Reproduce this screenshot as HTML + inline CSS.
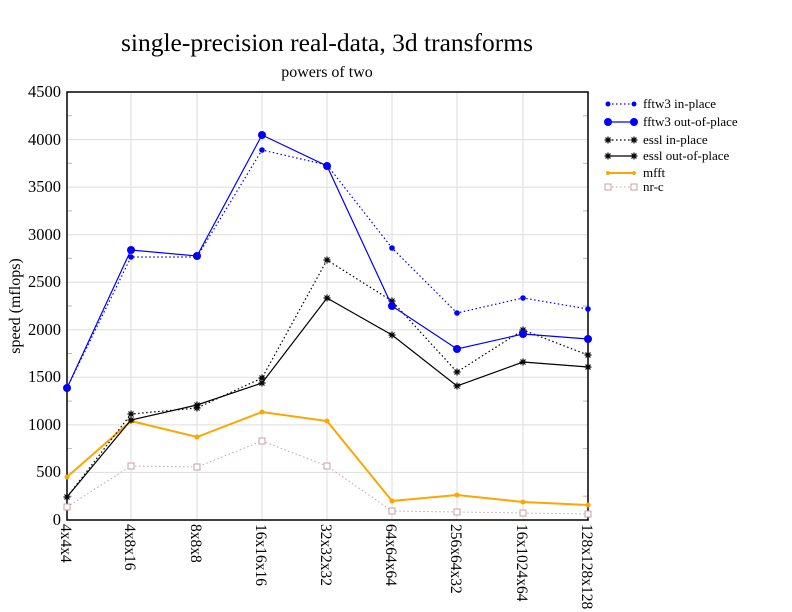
<!DOCTYPE html>
<html><head><meta charset="utf-8"><style>body{margin:0;background:#fff}svg{display:block}text{font-family:"Liberation Serif",serif;fill:#000}</style></head><body>
<svg width="792" height="612" viewBox="0 0 792 612">
<defs>
<g id="star"><path d="M-3.5,0H3.5M0,-3.5V3.5M-2.5,-2.5L2.5,2.5M-2.5,2.5L2.5,-2.5" stroke="#000" stroke-width="1.2"/></g>
</defs>
<text x="327" y="51" font-size="25.5" text-anchor="middle">single-precision real-data, 3d transforms</text>
<text x="327" y="77" font-size="16" text-anchor="middle">powers of two</text>
<g stroke="#ddd" stroke-width="1">
<line x1="131" y1="92" x2="131" y2="520"/><line x1="197" y1="92" x2="197" y2="520"/><line x1="262" y1="92" x2="262" y2="520"/><line x1="327" y1="92" x2="327" y2="520"/><line x1="392" y1="92" x2="392" y2="520"/><line x1="457" y1="92" x2="457" y2="520"/><line x1="523" y1="92" x2="523" y2="520"/>
<line x1="67" y1="472.4" x2="588" y2="472.4"/><line x1="67" y1="424.9" x2="588" y2="424.9"/><line x1="67" y1="377.3" x2="588" y2="377.3"/><line x1="67" y1="329.8" x2="588" y2="329.8"/><line x1="67" y1="282.2" x2="588" y2="282.2"/><line x1="67" y1="234.7" x2="588" y2="234.7"/><line x1="67" y1="187.1" x2="588" y2="187.1"/><line x1="67" y1="139.6" x2="588" y2="139.6"/>
</g>
<g stroke="#bbb" stroke-width="1">
<line x1="67" y1="496.2" x2="72" y2="496.2"/><line x1="67" y1="448.6" x2="72" y2="448.6"/><line x1="67" y1="401.1" x2="72" y2="401.1"/><line x1="67" y1="353.5" x2="72" y2="353.5"/><line x1="67" y1="306" x2="72" y2="306"/><line x1="67" y1="258.4" x2="72" y2="258.4"/><line x1="67" y1="210.9" x2="72" y2="210.9"/><line x1="67" y1="163.3" x2="72" y2="163.3"/><line x1="67" y1="115.8" x2="72" y2="115.8"/>
<line x1="583" y1="496.2" x2="588" y2="496.2"/><line x1="583" y1="448.6" x2="588" y2="448.6"/><line x1="583" y1="401.1" x2="588" y2="401.1"/><line x1="583" y1="353.5" x2="588" y2="353.5"/><line x1="583" y1="306" x2="588" y2="306"/><line x1="583" y1="258.4" x2="588" y2="258.4"/><line x1="583" y1="210.9" x2="588" y2="210.9"/><line x1="583" y1="163.3" x2="588" y2="163.3"/><line x1="583" y1="115.8" x2="588" y2="115.8"/>
</g>
<rect x="67" y="92" width="521" height="428" fill="none" stroke="#000" stroke-width="1.5"/>
<g font-size="16.5" text-anchor="end">
<text x="61" y="525">0</text><text x="61" y="477">500</text><text x="61" y="430">1000</text><text x="61" y="382">1500</text><text x="61" y="335">2000</text><text x="61" y="287">2500</text><text x="61" y="240">3000</text><text x="61" y="192">3500</text><text x="61" y="145">4000</text><text x="61" y="97">4500</text>
</g>
<text transform="translate(20,306) rotate(-90)" font-size="16" text-anchor="middle">speed (mflops)</text>
<g font-size="15.5">
<text transform="translate(61,524) rotate(90)">4x4x4</text>
<text transform="translate(125,524) rotate(90)">4x8x16</text>
<text transform="translate(191,524) rotate(90)">8x8x8</text>
<text transform="translate(256,524) rotate(90)">16x16x16</text>
<text transform="translate(321,524) rotate(90)">32x32x32</text>
<text transform="translate(386,524) rotate(90)">64x64x64</text>
<text transform="translate(451,524) rotate(90)">256x64x32</text>
<text transform="translate(517,524) rotate(90)">16x1024x64</text>
<text transform="translate(582,524) rotate(90)">128x128x128</text>
</g>
<polyline fill="none" stroke="#c9a0a0" stroke-width="1" stroke-dasharray="1.5,2.5" points="67,507 131,466 197,467 262,441 327,466 392,511 457,512 523,513 588,514"/>
<g fill="#fff" stroke="#c9a0a0" stroke-width="1"><rect x="64" y="504" width="6" height="6"/><rect x="128" y="463" width="6" height="6"/><rect x="194" y="464" width="6" height="6"/><rect x="259" y="438" width="6" height="6"/><rect x="324" y="463" width="6" height="6"/><rect x="389" y="508" width="6" height="6"/><rect x="454" y="509" width="6" height="6"/><rect x="520" y="510" width="6" height="6"/><rect x="585" y="511" width="6" height="6"/></g>
<polyline fill="none" stroke="#ffa500" stroke-width="2" points="67,477 131,421 197,437 262,412 327,421 392,501 457,495 523,502 588,505"/>
<g fill="#ffa500"><circle cx="67" cy="477" r="2.5"/><circle cx="131" cy="421" r="2.5"/><circle cx="197" cy="437" r="2.5"/><circle cx="262" cy="412" r="2.5"/><circle cx="327" cy="421" r="2.5"/><circle cx="392" cy="501" r="2.5"/><circle cx="457" cy="495" r="2.5"/><circle cx="523" cy="502" r="2.5"/><circle cx="588" cy="505" r="2.5"/></g>
<polyline fill="none" stroke="#000" stroke-width="1.2" stroke-dasharray="1.5,2.5" points="67,497 131,414 197,408 262,378 327,260 392,301 457,372 523,330 588,355"/>
<g><use href="#star" x="67" y="497"/><use href="#star" x="131" y="414"/><use href="#star" x="197" y="408"/><use href="#star" x="262" y="378"/><use href="#star" x="327" y="260"/><use href="#star" x="392" y="301"/><use href="#star" x="457" y="372"/><use href="#star" x="523" y="330"/><use href="#star" x="588" y="355"/></g>
<polyline fill="none" stroke="#000" stroke-width="1.2" points="67,497 131,420 197,405 262,383 327,298 392,335 457,386 523,362 588,367"/>
<g><use href="#star" x="131" y="420"/><use href="#star" x="197" y="405"/><use href="#star" x="262" y="383"/><use href="#star" x="327" y="298"/><use href="#star" x="392" y="335"/><use href="#star" x="457" y="386"/><use href="#star" x="523" y="362"/><use href="#star" x="588" y="367"/></g>
<polyline fill="none" stroke="#00f" stroke-width="1.2" stroke-dasharray="1.5,2.5" points="67,388 131,257 197,257 262,150 327,165 392,248 457,313 523,298 588,309"/>
<g fill="#00f"><circle cx="67" cy="388" r="2.8"/><circle cx="131" cy="257" r="2.8"/><circle cx="197" cy="257" r="2.8"/><circle cx="262" cy="150" r="2.8"/><circle cx="327" cy="165" r="2.8"/><circle cx="392" cy="248" r="2.8"/><circle cx="457" cy="313" r="2.8"/><circle cx="523" cy="298" r="2.8"/><circle cx="588" cy="309" r="2.8"/></g>
<polyline fill="none" stroke="#00f" stroke-width="1.2" points="67,388 131,250 197,256 262,135 327,166 392,306 457,349 523,334 588,339"/>
<g fill="#00f"><circle cx="67" cy="388" r="4"/><circle cx="131" cy="250" r="4"/><circle cx="197" cy="256" r="4"/><circle cx="262" cy="135" r="4"/><circle cx="327" cy="166" r="4"/><circle cx="392" cy="306" r="4"/><circle cx="457" cy="349" r="4"/><circle cx="523" cy="334" r="4"/><circle cx="588" cy="339" r="4"/></g>
<g font-size="13">
<line x1="608" y1="104" x2="634" y2="104" stroke="#00f" stroke-width="1.2" stroke-dasharray="1.5,2.5"/><circle cx="608" cy="104" r="2.5" fill="#00f"/><circle cx="634" cy="104" r="2.5" fill="#00f"/><text x="643" y="108">fftw3 in-place</text>
<line x1="608" y1="122" x2="634" y2="122" stroke="#00f" stroke-width="1.2"/><circle cx="608" cy="122" r="4" fill="#00f"/><circle cx="634" cy="122" r="4" fill="#00f"/><text x="643" y="126">fftw3 out-of-place</text>
<line x1="608" y1="140" x2="634" y2="140" stroke="#000" stroke-width="1.2" stroke-dasharray="1.5,2.5"/><use href="#star" x="608" y="140"/><use href="#star" x="634" y="140"/><text x="643" y="144">essl in-place</text>
<line x1="608" y1="156" x2="634" y2="156" stroke="#000" stroke-width="1.2"/><use href="#star" x="608" y="156"/><use href="#star" x="634" y="156"/><text x="643" y="160">essl out-of-place</text>
<line x1="608" y1="173" x2="634" y2="173" stroke="#ffa500" stroke-width="2"/><circle cx="608" cy="173" r="2" fill="#ffa500"/><circle cx="634" cy="173" r="2" fill="#ffa500"/><text x="643" y="177">mfft</text>
<line x1="608" y1="187" x2="634" y2="187" stroke="#c9a0a0" stroke-width="1" stroke-dasharray="1.5,2.5"/><rect x="605" y="184" width="6" height="6" fill="#fff" stroke="#c9a0a0"/><rect x="631" y="184" width="6" height="6" fill="#fff" stroke="#c9a0a0"/><text x="643" y="191">nr-c</text>
</g>
</svg>
</body></html>
